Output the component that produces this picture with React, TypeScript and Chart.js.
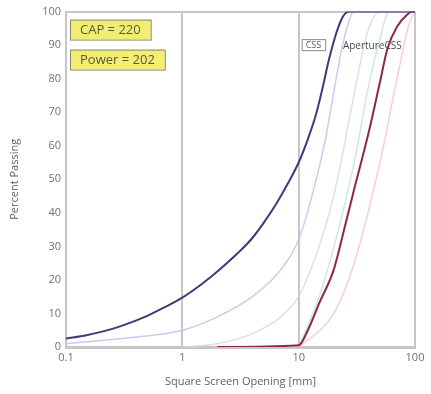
import { useEffect, useRef } from "react";
import { Chart, registerables } from "chart.js";
Chart.register(...registerables);

const xTicks = [0.1, 1, 10, 100];
const yMin = 0;
const yMax = 100;
const yStep = 10;

const xTitle = "Square Screen Opening [mm]";
const yTitle = "Percent Passing";
const capLabel = "CAP = 220";
const powerLabel = "Power = 202";
const cssLabel = "CSS";
const apertureLabel = "ApertureCSS";

// main product curve (navy)
const navyX = [0.1, 0.15, 0.2, 0.3, 0.5, 0.7, 1, 1.5, 2, 3, 4, 5, 6.5, 8, 10, 12, 14, 16, 18, 20, 22, 24, 27, 100];
const navyY = [2.5, 3.5, 4.5, 6.3, 9.3, 11.8, 14.7, 19, 22.5, 28, 32.5, 37, 43, 48.5, 55, 62, 69, 77, 85, 91, 95.5, 98.5, 100, 100];

// feed curve (maroon)
const redX = [2, 10, 12, 15, 20, 25, 30, 40, 50, 58, 70, 85, 95, 100];
const redY = [0, 0.5, 5, 13, 23, 36, 47, 64, 79, 89, 95.5, 99, 100, 100];

// faint intermediate curves
const lavX = [0.1, 0.3, 1, 2, 4, 7, 10, 13, 17, 21, 25, 30, 100];
const lavY = [1, 2.5, 5, 9, 15, 23, 32, 45, 62, 80, 93, 100, 100];
const grayX = [1, 2, 4, 7, 10, 15, 20, 28, 35, 40, 50, 100];
const grayY = [0, 1, 4, 9, 15, 30, 45, 70, 87, 95, 100, 100];
const greenX = [10, 15, 22, 30, 40, 50, 60, 100];
const greenY = [0, 15, 35, 55, 78, 92, 100, 100];
const pinkX = [10, 20, 30, 50, 70, 90, 100];
const pinkY = [0, 10, 25, 55, 80, 97, 100];

const pts = (xs: number[], ys: number[]) => xs.map((x, i) => ({ x, y: ys[i] }));

export default function App() {
  const ref = useRef<HTMLCanvasElement>(null);
  useEffect(() => {
    document.body.style.margin = "0";
    const labelPlugin = {
      id: "labels",
      afterDatasetsDraw(chart: any) {
        const ctx = chart.ctx as CanvasRenderingContext2D;
        const area = chart.chartArea;
        const xs = chart.scales.x;
        const ys = chart.scales.y;
        ctx.save();
        ctx.textBaseline = "middle";
        const box = (text: string, x: number, y: number, h: number, pad: number, fill: string, stroke: string, color: string) => {
          const w = ctx.measureText(text).width + pad * 2;
          ctx.fillStyle = fill;
          ctx.fillRect(x, y, w, h);
          ctx.strokeStyle = stroke;
          ctx.lineWidth = 1;
          ctx.strokeRect(x + 0.5, y + 0.5, w, h);
          ctx.fillStyle = color;
          ctx.textAlign = "left";
          ctx.fillText(text, x + pad, y + h / 2 + 1);
        };
        ctx.font = "13px 'Open Sans', sans-serif";
        box(capLabel, area.left + 4, area.top + 8, 20, 10, "#f2ee74", "#8a8a66", "#5a5a30");
        box(powerLabel, area.left + 4, area.top + 38, 20, 10, "#f2ee74", "#8a8a66", "#5a5a30");
        ctx.font = "9px 'Open Sans', sans-serif";
        const cy = ys.getPixelForValue(90);
        box(cssLabel, xs.getPixelForValue(10) + 3, cy - 6, 11, 4, "#ffffff", "#8a8a8a", "#555555");
        ctx.font = "10px 'Open Sans', sans-serif";
        ctx.fillStyle = "#4a4a4a";
        ctx.textAlign = "left";
        ctx.fillText(apertureLabel, xs.getPixelForValue(24), cy + 1);
        ctx.restore();
      },
    };
    const faint = (data: any, color: string) => ({
      data,
      borderColor: color,
      borderWidth: 1.5,
      pointRadius: 0,
      cubicInterpolationMode: "monotone" as const,
      order: 2,
    });
    const chart = new Chart(ref.current!, {
      type: "line",
      data: {
        datasets: [
          faint(pts(lavX, lavY), "rgba(190,190,235,0.8)"),
          faint(pts(grayX, grayY), "rgba(215,215,220,0.8)"),
          faint(pts(greenX, greenY), "rgba(200,232,210,0.9)"),
          faint(pts(pinkX, pinkY), "rgba(245,200,212,0.9)"),
          {
            data: pts(navyX, navyY),
            borderColor: "#3c3c78",
            borderWidth: 2,
            pointRadius: 0,
            cubicInterpolationMode: "monotone",
            order: 0,
          },
          {
            data: pts(redX, redY),
            borderColor: "#8c2846",
            borderWidth: 2,
            pointRadius: 0,
            cubicInterpolationMode: "monotone",
            order: 0,
          },
        ],
      },
      options: {
        responsive: false,
        animation: false,
        layout: { padding: { left: 0, right: 16, top: 9, bottom: 0 } },
        plugins: { legend: { display: false }, tooltip: { enabled: false } },
        scales: {
          x: {
            type: "logarithmic",
            min: 0.1,
            max: 100,
            afterBuildTicks: (scale: any) => {
              scale.ticks = xTicks.map((v) => ({ value: v }));
            },
            afterFit: (scale: any) => {
              scale.height = 47;
            },
            ticks: {
              color: "#707070",
              font: { family: "'Open Sans', sans-serif", size: 11 },
              padding: 4,
              maxRotation: 0,
              autoSkip: false,
              callback: (v: any) => String(v),
            },
            grid: { color: "#c6c6c6", lineWidth: 2, drawTicks: false },
            border: { color: "#c6c6c6", width: 3 },
            title: {
              display: true,
              text: xTitle,
              color: "#606060",
              font: { family: "'Open Sans', sans-serif", size: 11 },
              padding: { top: 6, bottom: 6 },
            },
          },
          y: {
            min: yMin,
            max: yMax,
            afterFit: (scale: any) => {
              scale.width = 66;
            },
            ticks: {
              stepSize: yStep,
              color: "#707070",
              font: { family: "'Open Sans', sans-serif", size: 11 },
              padding: 5,
            },
            grid: {
              color: (c: any) => (c.tick && c.tick.value === yMax ? "#c6c6c6" : "transparent"),
              lineWidth: 2,
              drawTicks: false,
            },
            border: { color: "#c6c6c6", width: 2 },
            title: {
              display: true,
              text: yTitle,
              color: "#606060",
              font: { family: "'Open Sans', sans-serif", size: 11 },
              padding: { top: 8, bottom: 0 },
            },
          },
        },
      },
      plugins: [labelPlugin],
    } as any);
    return () => chart.destroy();
  }, []);
  return (
    <div style={{ width: 431, height: 394 }}>
      <canvas ref={ref} width={431} height={394} style={{ display: "block" }} />
    </div>
  );
}
